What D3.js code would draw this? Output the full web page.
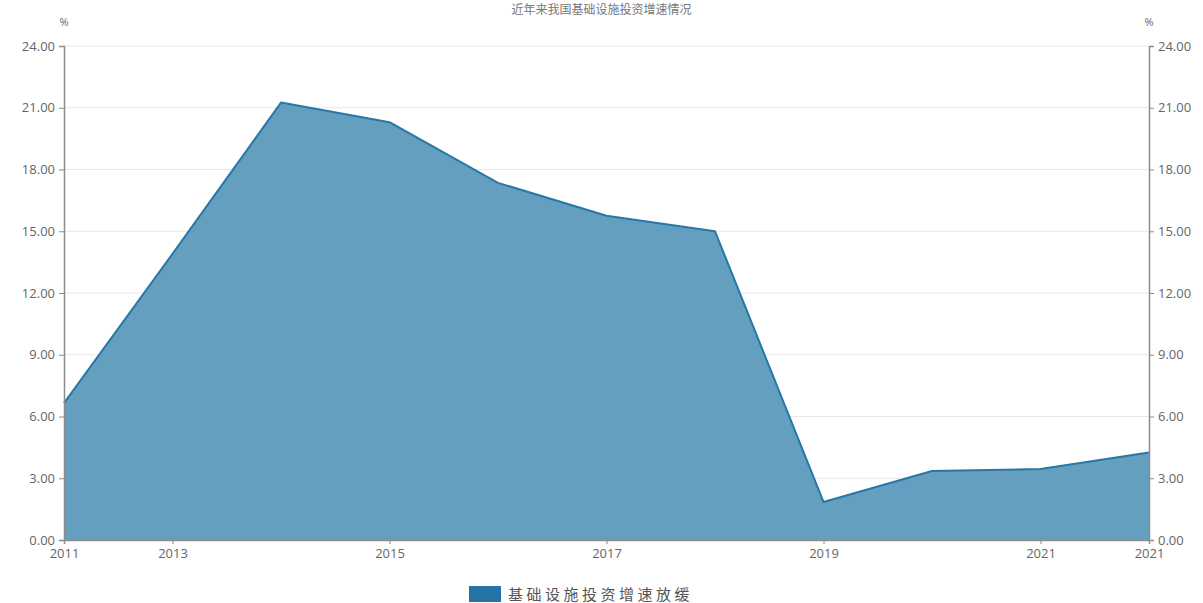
<!DOCTYPE html>
<html>
<head>
<meta charset="utf-8">
<script src="https://cdn.jsdelivr.net/npm/d3@7"></script>
<style>
  body { margin: 0; background: #fff; }
  text { font-family: "Open Sans", "Noto Sans CJK SC", sans-serif; }
</style>
</head>
<body>
<div id="chart"></div>
<script>
// chart data
const categories = ["2011", "2013", "2014", "2015", "2016", "2017", "2018", "2019", "2020", "2021", "2021"];
const values = [6.65, 13.9, 21.25, 20.3, 17.35, 15.75, 15.0, 1.85, 3.35, 3.45, 4.25];
const tickLabels = ["2011", "2013", "", "2015", "", "2017", "", "2019", "", "2021", "2021"];
const yTicks = [0, 3, 6, 9, 12, 15, 18, 21, 24];
const seriesName = "基础设施投资增速放缓";
const titleText = "近年来我国基础设施投资增速情况";

const width = 1203, height = 603;
const margin = { top: 46, right: 54, bottom: 63, left: 64 };
const innerW = width - margin.left - margin.right;
const innerH = height - margin.top - margin.bottom;

const fillColor = "#659fbf";
const lineColor = "#2778a6";
const axisColor = "#8c8c8c";
const labelColor = "#666";

const svg = d3.select("#chart")
    .append("svg")
    .attr("width", width)
    .attr("height", height);

// title, small at the very top
svg.append("text")
    .attr("x", width / 2)
    .attr("y", 14)
    .attr("text-anchor", "middle")
    .attr("font-size", "12px")
    .attr("fill", "#777")
    .attr("font-family", "'Noto Sans CJK SC', sans-serif")
    .text(titleText);

const g = svg.append("g")
    .attr("transform", "translate(" + margin.left + "," + margin.top + ")");

// x scale by index since labels repeat
const x = d3.scaleLinear()
    .domain([0, categories.length - 1])
    .range([0, innerW]);

const y = d3.scaleLinear()
    .domain([0, 24])
    .range([innerH, 0]);

// grid lines
g.append("g")
    .selectAll("line")
    .data(yTicks)
    .enter()
    .append("line")
    .attr("x1", 0)
    .attr("x2", innerW)
    .attr("y1", d => y(d))
    .attr("y2", d => y(d))
    .attr("stroke", "#e8e8e8")
    .attr("stroke-width", 1);

// area
g.append("path")
    .datum(values)
    .attr("fill", fillColor)
    .attr("d", d3.area()
        .x((d, i) => x(i))
        .y0(innerH)
        .y1(d => y(d)));

g.append("path")
    .datum(values)
    .attr("fill", "none")
    .attr("stroke", lineColor)
    .attr("stroke-width", 2)
    .attr("stroke-linejoin", "round")
    .attr("d", d3.line()
        .x((d, i) => x(i))
        .y(d => y(d)));

// axes
const fmt = d3.format(".2f");

const yLeft = g.append("g")
    .call(d3.axisLeft(y).tickValues(yTicks).tickFormat(fmt).tickSize(5).tickPadding(4));
const yRight = g.append("g")
    .attr("transform", "translate(" + innerW + ",0)")
    .call(d3.axisRight(y).tickValues(yTicks).tickFormat(fmt).tickSize(5).tickPadding(4));

const xTickIdx = tickLabels.map((d, i) => i).filter(i => tickLabels[i] !== "");
const xAxis = g.append("g")
    .attr("transform", "translate(0," + innerH + ")")
    .call(d3.axisBottom(x).tickValues(xTickIdx).tickFormat(i => tickLabels[i]).tickSize(4).tickPadding(5));

[yLeft, yRight, xAxis].forEach(a => {
    a.select(".domain").attr("stroke", axisColor).attr("stroke-width", 1.5);
    a.selectAll(".tick line").attr("stroke", axisColor);
    a.selectAll(".tick text")
        .attr("fill", labelColor)
        .attr("font-size", "13px")
        .attr("font-family", "'Open Sans', sans-serif");
});

// unit labels
g.append("text")
    .attr("x", 0)
    .attr("y", -20)
    .attr("text-anchor", "middle")
    .attr("font-size", "11px")
    .attr("fill", labelColor)
    .text("%");
g.append("text")
    .attr("x", innerW)
    .attr("y", -20)
    .attr("text-anchor", "middle")
    .attr("font-size", "11px")
    .attr("fill", labelColor)
    .text("%");

// legend
const legend = svg.append("g")
    .attr("transform", "translate(469,586)");
legend.append("rect")
    .attr("width", 32)
    .attr("height", 16)
    .attr("fill", "#2574a5");
legend.append("text")
    .attr("x", 39)
    .attr("y", 14)
    .attr("font-size", "15px")
    .attr("letter-spacing", "3.5px")
    .attr("fill", "#555")
    .attr("font-family", "'Noto Sans CJK SC', sans-serif")
    .text(seriesName);
</script>
</body>
</html>
